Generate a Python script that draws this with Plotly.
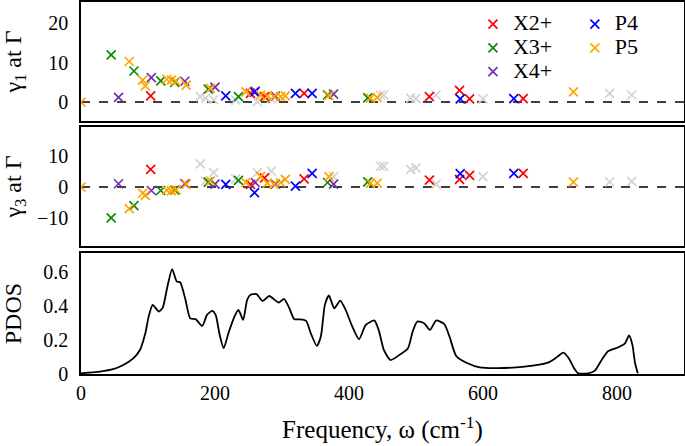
import plotly.graph_objects as go

# ---------------- data ----------------
# X2+ (red)
x2_freq = [104, 253, 274, 333, 520, 565, 580, 660]
x2_g1 = [1.6, 2.2, 1.4, 2.2, 1.4, 3.0, 0.8, 0.9]
x2_g3 = [5.8, 0.9, 3.0, 2.7, 2.3, 2.5, 3.8, 4.5]

# X3+ (green)
x3_freq = [45, 79, 119, 140, 190, 235, 368, 428]
x3_g1 = [12.0, 7.9, 5.4, 5.0, 3.3, 1.4, 1.8, 1.1]
x3_g3 = [-10.0, -6.0, -1.1, -1.0, 1.6, 2.2, 1.5, 1.7]

# X4+ (purple)
x4_freq = [56, 105, 155, 200, 260, 290, 377]
x4_g1 = [1.2, 6.2, 5.3, 3.8, 2.8, 1.5, 2.0]
x4_g3 = [1.1, -1.1, 1.1, 1.0, 1.5, 1.0, 1.0]

# P4 (blue)
p4_freq = [216, 259, 320, 345, 566, 646]
p4_g1 = [1.6, 2.5, 2.2, 2.2, 0.8, 0.9]
p4_g3 = [0.9, -1.8, 0.3, 4.5, 4.4, 4.5]

# P5 (orange)
p5_freq = [0, 72, 92, 96, 128, 135, 142, 157, 193, 246, 268, 278, 288, 298, 305, 370, 432, 442, 735]
p5_g1 = [0.0, 10.3, 5.6, 4.1, 5.8, 5.6, 5.3, 4.3, 3.5, 2.6, 1.8, 1.5, 1.4, 1.4, 1.6, 1.7, 1.0, 1.2, 2.6]
p5_g3 = [0.0, -7.0, -2.0, -2.7, -1.0, -1.2, -0.9, 1.0, 2.0, 1.5, 3.5, 1.3, 1.0, 1.5, 2.5, 3.4, 1.3, 1.3, 1.6]

# other modes (light gray, no legend)
oth_freq = [178, 186, 198, 231, 263, 284, 377, 447, 452, 492, 500, 530, 600, 789, 822]
oth_g1 = [1.4, 1.0, 0.6, 0.5, 0.1, 0.8, 2.2, 1.8, 1.8, 1.0, 0.9, 1.8, 0.8, 2.2, 1.8]
oth_g3 = [7.6, 2.0, 4.7, 2.7, 4.7, 5.2, 3.4, 6.8, 6.8, 5.8, 6.3, 1.0, 3.4, 1.7, 1.9]

# PDOS curve
pdos_freq = [0, 28, 48, 63, 78, 88, 96, 101, 107, 116, 122, 129, 136, 143, 148, 156, 163, 171,
             181, 188, 196, 201, 207, 213, 220, 229, 235, 242, 248, 253, 262, 271, 281, 295,
             303, 311, 318, 326, 336, 343, 352, 358, 364, 370, 378, 387, 395, 405, 415, 425,
             438, 445, 452, 462, 475, 488, 495, 502, 512, 521, 530, 542, 550, 560, 577, 595,
             622, 662, 697, 710, 720, 728, 736, 742, 757, 767, 777, 787, 802, 812, 818, 823,
             827, 831]
pdos_val = [0.004, 0.014, 0.028, 0.053, 0.092, 0.141, 0.239, 0.337, 0.406, 0.367, 0.39, 0.514,
            0.616, 0.543, 0.539, 0.435, 0.327, 0.322, 0.282, 0.347, 0.371, 0.347, 0.229, 0.151,
            0.239, 0.337, 0.376, 0.318, 0.435, 0.465, 0.469, 0.429, 0.458, 0.419, 0.441, 0.386,
            0.323, 0.321, 0.312, 0.239, 0.165, 0.22, 0.406, 0.461, 0.386, 0.431, 0.376, 0.278,
            0.204, 0.288, 0.314, 0.249, 0.141, 0.082, 0.111, 0.151, 0.249, 0.308, 0.298, 0.259,
            0.314, 0.294, 0.22, 0.106, 0.063, 0.039, 0.035, 0.043, 0.067, 0.098, 0.125, 0.092,
            0.033, 0.004, 0.004, 0.02, 0.082, 0.135, 0.157, 0.18, 0.226, 0.171, 0.063, 0.004]

x_ticks = [0, 200, 400, 600, 800]

# ---------------- figure ----------------
FONT = "Liberation Serif"
fig = go.Figure()

def mk(freq, vals, color, name, yaxis, legend, showlegend):
    xa = {"y": "x", "y2": "x2", "y3": "x3"}[yaxis]
    label = '<span style="font-size:22px">%s</span>' % name
    return go.Scatter(
        x=freq, y=vals, mode="markers", name=label,
        marker=dict(symbol="x-thin", size=9, color=color,
                    line=dict(width=1.7, color=color)),
        xaxis=xa, yaxis=yaxis, legend=legend, showlegend=showlegend,
        legendgroup=name,
    )

# gray modes behind
fig.add_trace(mk(oth_freq, oth_g1, "#d3d3d3", "other", "y", "legend", False))
fig.add_trace(mk(oth_freq, oth_g3, "#d3d3d3", "other", "y2", "legend", False))

series = [
    ("X2+", x2_freq, x2_g1, x2_g3, "#ff0000", "legend"),
    ("X3+", x3_freq, x3_g1, x3_g3, "#0a8a0a", "legend"),
    ("X4+", x4_freq, x4_g1, x4_g3, "#7030b0", "legend"),
    ("P4", p4_freq, p4_g1, p4_g3, "#0000ff", "legend2"),
    ("P5", p5_freq, p5_g1, p5_g3, "#ffa500", "legend2"),
]
for name, f, g1, g3, c, lg in series:
    fig.add_trace(mk(f, g1, c, name, "y", lg, True))
    fig.add_trace(mk(f, g3, c, name, "y2", lg, False))

fig.add_trace(go.Scatter(x=pdos_freq, y=pdos_val, mode="lines",
                         line=dict(color="black", width=1.8, shape="spline", smoothing=0.6),
                         xaxis="x3", yaxis="y3", showlegend=False))

# zero lines
for xr, yr in [("x domain", "y"), ("x2 domain", "y2")]:
    fig.add_shape(type="line", xref=xr, x0=0, x1=1, yref=yr, y0=0, y1=0,
                  line=dict(color="black", width=1.5, dash="dash"), layer="below")

axis_common = dict(showline=True, mirror=True, linecolor="black", linewidth=1.5,
                   showgrid=False, zeroline=False, ticks="", automargin=False,
                   tickfont=dict(family=FONT, size=20, color="black"))

fig.update_layout(
    width=685, height=446,
    margin=dict(l=81, r=1, t=2, b=72),
    paper_bgcolor="white", plot_bgcolor="white",
    font=dict(family=FONT, color="black"),
    xaxis=dict(**axis_common, range=[0, 900], matches="x3", showticklabels=False, anchor="y", tickvals=x_ticks),
    xaxis2=dict(**axis_common, range=[0, 900], matches="x3", showticklabels=False, anchor="y2", tickvals=x_ticks),
    xaxis3=dict(**axis_common, range=[0, 900], anchor="y3", tickvals=x_ticks, ticklabelstandoff=0,
                title=dict(text="Frequency, ω (cm<sup>-1</sup>)", font=dict(family=FONT, size=25), standoff=18)),
    yaxis=dict(**axis_common, domain=[0.680, 1.0], range=[-4.8, 25.4], tickvals=[0, 10, 20], anchor="x",
               ticklabelstandoff=7,
               title=dict(text="γ<sub>1</sub> at Γ", font=dict(family=FONT, size=24), standoff=23)),
    yaxis2=dict(**axis_common, domain=[0.344, 0.664], range=[-19.2, 19.6], tickvals=[-10, 0, 10], anchor="x2",
                ticklabelstandoff=7,
                title=dict(text="γ<sub>3</sub> at Γ", font=dict(family=FONT, size=24), standoff=17)),
    yaxis3=dict(**axis_common, domain=[0.0, 0.325], range=[0, 0.71], tickvals=[0, 0.2, 0.4, 0.6],
                ticktext=["0", "0.2", "0.4", "0.6"], anchor="x3", ticklabelstandoff=7,
                title=dict(text="PDOS", font=dict(family=FONT, size=24), standoff=19)),
    legend=dict(x=0.65, y=0.986, xanchor="left", yanchor="top", bgcolor="rgba(0,0,0,0)",
                font=dict(family=FONT, size=16), tracegroupgap=0, itemwidth=30),
    legend2=dict(x=0.819, y=0.986, xanchor="left", yanchor="top", bgcolor="rgba(0,0,0,0)",
                 font=dict(family=FONT, size=16), tracegroupgap=0, itemwidth=30),
)

fig.write_html("out.html", config={"displayModeBar": False},
               post_script="document.body.style.margin='0';")
